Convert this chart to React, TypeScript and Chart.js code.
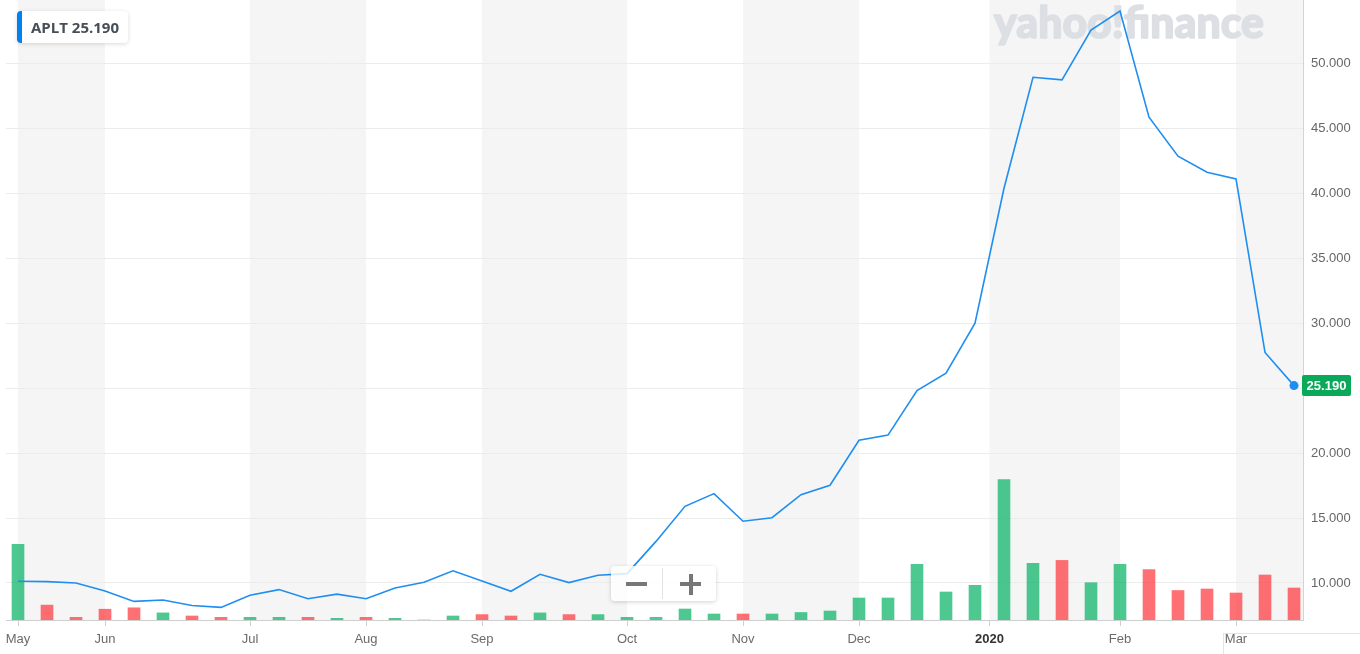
import { useEffect, useRef } from 'react';
import { Chart, registerables } from 'chart.js';

Chart.register(...registerables);

// Weekly closing price (APLT), one value per week
const price = [
  10.13, 10.1, 10.0, 9.38, 8.58, 8.69, 8.26, 8.12, 9.06, 9.49,
  8.79, 9.14, 8.79, 9.62, 10.05, 10.94, 10.16, 9.36, 10.67, 10.03,
  10.59, 10.72, 13.2, 15.9, 16.88, 14.75, 15.02, 16.8, 17.52, 20.98,
  21.38, 24.8, 26.15, 30.0, 40.38, 48.92, 48.72, 52.56, 54.02, 45.85,
  42.85, 41.61, 41.1, 27.74, 25.19,
];

// Weekly volume (arbitrary units, thousands of shares estimated)
const volume = [
  756, 149, 27, 108, 122, 71, 40, 27, 27, 27,
  27, 17, 27, 17, 0, 40, 54, 40, 71, 54,
  54, 27, 27, 110, 60, 60, 60, 75, 90, 220,
  220, 557, 280, 347, 1403, 567, 596, 373, 557, 504,
  295, 310, 270, 450, 320,
];

// 'u' = up week (green), 'd' = down week (red)
const direction = [
  'u', 'd', 'd', 'd', 'd', 'u', 'd', 'd', 'u', 'u',
  'd', 'u', 'd', 'u', 'u', 'u', 'd', 'd', 'u', 'd',
  'u', 'u', 'u', 'u', 'u', 'd', 'u', 'u', 'u', 'u',
  'u', 'u', 'u', 'u', 'u', 'u', 'd', 'u', 'u', 'd',
  'd', 'd', 'd', 'd', 'd',
];

// Month ticks (week index where each month starts)
const monthTicks = [0, 3, 8, 12, 16, 21, 25, 29, 33.5, 38, 42];
const monthLabels = ['May', 'Jun', 'Jul', 'Aug', 'Sep', 'Oct', 'Nov', 'Dec', '2020', 'Feb', 'Mar'];

const priceTicks = [10, 15, 20, 25, 30, 35, 40, 45, 50];

const symbol = 'APLT';
const lastPrice = price[price.length - 1];

const LINE = '#1f8ef1';
const UP = 'rgba(0,176,97,0.7)';
const DOWN = 'rgba(255,51,58,0.7)';

const bandsPlugin = {
  id: 'yfBands',
  beforeDraw(chart: any) {
    const { ctx, chartArea, scales } = chart;
    const x = scales.x;
    ctx.save();
    ctx.fillStyle = '#f5f5f5';
    for (let i = 0; i < monthTicks.length; i += 2) {
      const x0 = x.getPixelForValue(monthTicks[i]);
      const x1 = i + 1 < monthTicks.length ? x.getPixelForValue(monthTicks[i + 1]) : chartArea.right;
      ctx.fillRect(x0, chartArea.top, x1 - x0, chartArea.bottom - chartArea.top);
    }
    ctx.restore();
  },
  beforeDatasetsDraw(chart: any) {
    const { ctx } = chart;
    const text = 'yahoo!finance';
    ctx.save();
    ctx.font = '900 36px Lato';
    const w = ctx.measureText(text).width;
    const size = (36 * 270) / w;
    ctx.font = `900 ${size}px Lato`;
    ctx.fillStyle = '#dcdfe3';
    ctx.strokeStyle = '#dcdfe3';
    ctx.lineWidth = 1.6;
    ctx.lineJoin = 'round';
    ctx.textBaseline = 'alphabetic';
    ctx.fillText(text, 994, 38);
    ctx.strokeText(text, 994, 38);
    ctx.restore();
  },
  afterDraw(chart: any) {
    const { ctx, scales, chartArea } = chart;
    const y = scales.y.getPixelForValue(lastPrice);
    const x0 = chartArea.right - 1;
    ctx.save();
    ctx.fillStyle = '#0aa95a';
    const h = 21;
    const w = 49;
    ctx.beginPath();
    if (ctx.roundRect) ctx.roundRect(x0, y - h / 2, w, h, 2);
    else ctx.rect(x0, y - h / 2, w, h);
    ctx.fill();
    ctx.fillStyle = '#ffffff';
    ctx.font = 'bold 13px "Liberation Sans", Arial, sans-serif';
    ctx.textAlign = 'center';
    ctx.textBaseline = 'middle';
    ctx.fillText(lastPrice.toFixed(3), x0 + w / 2, y + 1);
    ctx.restore();
  },
};

export default function App() {
  const ref = useRef<HTMLCanvasElement | null>(null);

  useEffect(() => {
    if (!ref.current) return;
    const chart = new Chart(ref.current, {
      type: 'bar',
      data: {
        datasets: [
          {
            type: 'line',
            data: price.map((v, i) => ({ x: i, y: v })),
            borderColor: LINE,
            borderWidth: 1.6,
            backgroundColor: LINE,
            pointRadius: price.map((_, i) => (i === price.length - 1 ? 4.5 : 0)),
            pointHoverRadius: 0,
            pointBorderWidth: 0,
            tension: 0,
            fill: false,
            clip: false,
            yAxisID: 'y',
            order: 1,
          } as any,
          {
            type: 'bar',
            data: volume.map((v, i) => ({ x: i, y: v })),
            backgroundColor: direction.map((d) => (d === 'u' ? UP : DOWN)),
            borderWidth: 0,
            barThickness: 12,
            yAxisID: 'yv',
            order: 2,
          } as any,
        ],
      },
      options: {
        animation: false,
        responsive: true,
        maintainAspectRatio: false,
        layout: { autoPadding: false, padding: { left: 6, top: 0, right: 0, bottom: 0 } },
        plugins: { legend: { display: false }, tooltip: { enabled: false } },
        scales: {
          x: {
            type: 'linear',
            offset: false,
            min: -0.414,
            max: 44.31,
            afterBuildTicks: (s: any) => {
              s.ticks = monthTicks.map((v) => ({ value: v }));
            },
            afterFit: (s: any) => {
              s.height = 34;
              s.paddingLeft = 0;
              s.paddingRight = 0;
              s.paddingTop = 0;
              s.paddingBottom = 0;
            },
            grid: {
              offset: false,
              drawOnChartArea: false,
              drawTicks: true,
              tickLength: 6,
              tickColor: '#cfcfcf',
            },
            border: { display: true, color: '#cfcfcf' },
            ticks: {
              autoSkip: false,
              maxRotation: 0,
              padding: 6,
              callback: (_v: any, i: number) => monthLabels[i],
              color: (c: any) => (monthLabels[c.index] === '2020' ? '#333333' : '#6b6b6b'),
              font: (c: any) => ({
                family: '"Liberation Sans", Arial, sans-serif',
                size: 13,
                weight: monthLabels[c.index] === '2020' ? 'bold' : 'normal',
              }),
            },
          },
          y: {
            type: 'linear',
            position: 'right',
            min: 7.15,
            max: 54.87,
            afterBuildTicks: (s: any) => {
              s.ticks = priceTicks.map((v) => ({ value: v }));
            },
            afterFit: (s: any) => {
              s.width = 57;
              s.paddingLeft = 0;
              s.paddingRight = 0;
              s.paddingTop = 0;
              s.paddingBottom = 0;
            },
            grid: { color: '#ececec', drawTicks: false, tickLength: 0 },
            border: { display: true, color: '#d4d4d4' },
            ticks: {
              padding: 8,
              color: '#666666',
              font: { family: '"Liberation Sans", Arial, sans-serif', size: 13 },
              callback: (v: any) => Number(v).toFixed(3),
            },
          },
          yv: {
            type: 'linear',
            display: false,
            min: 0,
            max: 6200,
          },
        },
      },
      plugins: [bandsPlugin],
    });
    return () => chart.destroy();
  }, []);

  return (
    <div style={{ position: 'fixed', left: 0, top: 0, width: 1360, height: 654, background: '#fff', overflow: 'hidden' }}>
      <canvas ref={ref} style={{ display: 'block' }} />
      <div
        style={{
          position: 'absolute',
          left: 17,
          top: 11,
          width: 111,
          height: 32,
          boxSizing: 'border-box',
          background: '#fff',
          borderLeft: '5px solid #0081f2',
          borderRadius: 4,
          boxShadow: '0 1px 4px rgba(0,0,0,0.15)',
          display: 'flex',
          alignItems: 'center',
          paddingLeft: 9,
          fontFamily: '"Open Sans", sans-serif',
          fontWeight: 700,
          fontSize: 15,
          color: '#464e56',
          whiteSpace: 'nowrap',
        }}
      >
        {symbol}&nbsp;{lastPrice.toFixed(3)}
      </div>
      <div
        style={{
          position: 'absolute',
          left: 611,
          top: 566,
          width: 105,
          height: 35,
          background: 'rgba(255,255,255,0.82)',
          borderRadius: 4,
          boxShadow: '0 1px 4px rgba(0,0,0,0.18)',
        }}
      >
        <div style={{ position: 'absolute', left: 15, top: 16, width: 21, height: 4, background: '#777' }} />
        <div style={{ position: 'absolute', left: 51, top: 2, width: 1, height: 31, background: '#e2e2e2' }} />
        <div style={{ position: 'absolute', left: 69, top: 16, width: 21, height: 4, background: '#777' }} />
        <div style={{ position: 'absolute', left: 77.5, top: 7.5, width: 4, height: 21, background: '#777' }} />
      </div>
      <div
        style={{
          position: 'absolute',
          left: 1223,
          top: 633,
          width: 140,
          height: 30,
          borderLeft: '1px solid #e3e3e3',
          borderTop: '1px solid #e3e3e3',
        }}
      />
    </div>
  );
}
